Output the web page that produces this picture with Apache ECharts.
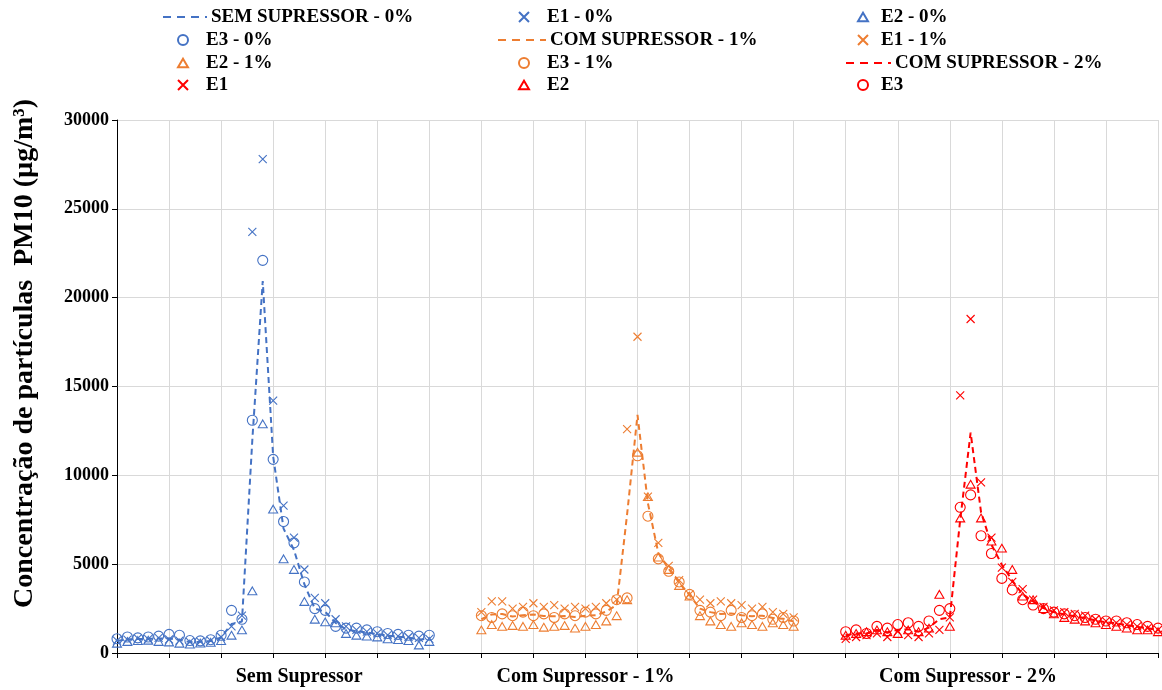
<!DOCTYPE html>
<html>
<head>
<meta charset="utf-8">
<script src="https://cdn.jsdelivr.net/npm/echarts@6/dist/echarts.min.js"></script>
<style>
  html, body { margin: 0; padding: 0; background: #ffffff; }
  #chart { width: 1162px; height: 690px; }
</style>
</head>
<body>
<div id="chart"></div>
<script>
// PM10 concentration sampled every 0.2 time units in three test runs
const timeStep = 0.2;
const groupStart = [0, 7, 14];
const groupLabels = ['Sem Supressor', 'Com Supressor - 1%', 'Com Supressor - 2%'];

// Run without suppressor (0%)
const mean0 = [680, 770, 790, 800, 820, 810, 750, 610, 630, 680, 870, 1630, 1770, 12000, 20930, 11070, 7000, 5800, 3870, 2500, 2320, 1700, 1330, 1230, 1150, 1070, 970, 920, 870, 750, 820];
const e1_0 = [700, 750, 820, 780, 850, 760, 700, 620, 640, 700, 900, 1500, 2100, 23700, 27800, 14200, 8300, 6500, 4700, 3100, 2800, 1900, 1500, 1300, 1200, 1100, 1000, 950, 900, 850, 800];
const e2_0 = [550, 650, 700, 720, 650, 620, 550, 500, 560, 600, 700, 1000, 1300, 3500, 12900, 8100, 5300, 4700, 2900, 1900, 1750, 1700, 1100, 1000, 950, 900, 800, 750, 700, 450, 650];
const e3_0 = [800, 900, 850, 900, 950, 1050, 1000, 700, 680, 750, 1000, 2400, 1900, 13100, 22100, 10900, 7400, 6200, 4000, 2500, 2400, 1500, 1400, 1400, 1300, 1200, 1100, 1050, 1000, 950, 1000];

// Run with suppressor at 1%
const mean1 = [1900, 2170, 2200, 2050, 2130, 2170, 2080, 2070, 2080, 2030, 2100, 2130, 2330, 2700, 7800, 13400, 8430, 5630, 4730, 3970, 3270, 2500, 2300, 2200, 2230, 2130, 2070, 2100, 1970, 1930, 1770];
const e1_1 = [2300, 2900, 2900, 2500, 2600, 2800, 2600, 2700, 2500, 2600, 2500, 2600, 2800, 3000, 12600, 17800, 8800, 6200, 4900, 4100, 3300, 3000, 2800, 2900, 2800, 2700, 2500, 2600, 2300, 2200, 2000];
const e2_1 = [1300, 1600, 1500, 1550, 1500, 1600, 1450, 1500, 1550, 1400, 1500, 1600, 1800, 2100, 3000, 11300, 8800, 5400, 4700, 3800, 3200, 2100, 1800, 1600, 1500, 1700, 1600, 1500, 1700, 1600, 1500];
const e3_1 = [2100, 2000, 2200, 2100, 2300, 2100, 2200, 2000, 2200, 2100, 2300, 2200, 2400, 3000, 3100, 11100, 7700, 5300, 4600, 4000, 3300, 2400, 2300, 2100, 2400, 2000, 2100, 2200, 1900, 2000, 1800];

// Run with suppressor at 2%
const mean2 = [1000, 1100, 1100, 1300, 1170, 1300, 1330, 1200, 1430, 1900, 2000, 7500, 12400, 7930, 6100, 4970, 4080, 3300, 2900, 2530, 2300, 2170, 2070, 1970, 1830, 1730, 1670, 1570, 1470, 1400, 1300];
const e1_2 = [800, 900, 1000, 1100, 900, 1200, 1000, 900, 1100, 1300, 2000, 14500, 18800, 9600, 6500, 4800, 4000, 3600, 3000, 2600, 2400, 2300, 2200, 2100, 1900, 1800, 1700, 1600, 1500, 1400, 1300];
const e2_2 = [1000, 1100, 1200, 1300, 1200, 1100, 1300, 1200, 1400, 3300, 1500, 7600, 9500, 7600, 6300, 5900, 4700, 3200, 3000, 2500, 2200, 2000, 1900, 1800, 1700, 1600, 1500, 1400, 1300, 1300, 1200];
const e3_2 = [1200, 1300, 1100, 1500, 1400, 1600, 1700, 1500, 1800, 2400, 2500, 8200, 8900, 6600, 5600, 4200, 3550, 3000, 2700, 2500, 2300, 2200, 2100, 2000, 1900, 1800, 1800, 1700, 1600, 1500, 1400];

const yTicks = [0, 5000, 10000, 15000, 20000, 25000, 30000];

const BLUE = '#4472C4', ORANGE = '#ED7D31', RED = '#FF0000';
const SERIF = '"Liberation Serif", "Times New Roman", serif';
const CROSS = 'path://M0,0L10,10M10,0L0,10';
const TRIANGLE = 'path://M5,0L10,8.66L0,8.66Z';

function pairs(start, values) {
  return values.map((v, i) => [Math.round((start + i * timeStep) * 100) / 100, v]);
}

function meanLine(name, start, values, color) {
  return {
    name, type: 'line', data: pairs(start, values),
    symbol: 'none', smooth: false,
    lineStyle: { color, width: 2, type: [6, 4] },
    itemStyle: { color },
    z: 2
  };
}

function markers(name, start, values, color, symbol, size) {
  return {
    name, type: 'scatter', data: pairs(start, values),
    symbol, symbolSize: size, symbolKeepAspect: true,
    itemStyle: { color: 'rgba(0,0,0,0)', borderColor: color, borderWidth: 1.1, opacity: 1 },
    z: 3
  };
}

const series = [
  meanLine('SEM SUPRESSOR - 0%', groupStart[0], mean0, BLUE),
  markers('E1 - 0%', groupStart[0], e1_0, BLUE, CROSS, 8),
  markers('E2 - 0%', groupStart[0], e2_0, BLUE, TRIANGLE, 9),
  markers('E3 - 0%', groupStart[0], e3_0, BLUE, 'circle', 10),
  meanLine('COM SUPRESSOR - 1%', groupStart[1], mean1, ORANGE),
  markers('E1 - 1%', groupStart[1], e1_1, ORANGE, CROSS, 8),
  markers('E2 - 1%', groupStart[1], e2_1, ORANGE, TRIANGLE, 9),
  markers('E3 - 1%', groupStart[1], e3_1, ORANGE, 'circle', 10),
  meanLine('COM SUPRESSOR - 2%', groupStart[2], mean2, RED),
  markers('E1', groupStart[2], e1_2, RED, CROSS, 8),
  markers('E2', groupStart[2], e2_2, RED, TRIANGLE, 9),
  markers('E3', groupStart[2], e3_2, RED, 'circle', 10)
];

// Legend: one small legend block per entry, laid out as a 3-column grid
const LEGEND_FONT = 19;
const rowY = [17, 40, 63, 85];
function markerEntry(name, row, cx, tx) {
  const w = 10;
  return {
    orient: 'horizontal', left: cx - w / 2, top: rowY[row] - 10, padding: 0,
    itemWidth: w, itemHeight: 10, selectedMode: false,
    textStyle: { fontFamily: SERIF, fontWeight: 'bold', fontSize: LEGEND_FONT, color: '#000',
                 lineHeight: 20, padding: [0, 0, 0, tx - (cx + w / 2 + 5)] },
    data: [name]
  };
}
function lineEntry(name, row, x0, x1, tx) {
  return {
    orient: 'horizontal', left: x0, top: rowY[row] - 10, padding: 0,
    itemWidth: x1 - x0, itemHeight: 10, selectedMode: false,
    textStyle: { fontFamily: SERIF, fontWeight: 'bold', fontSize: LEGEND_FONT, color: '#000',
                 lineHeight: 20, padding: [0, 0, 0, tx - (x1 + 5)] },
    data: [{
      name,
      itemStyle: { color: 'rgba(0,0,0,0)', borderColor: 'rgba(0,0,0,0)', borderWidth: 0 },
      lineStyle: { width: 2, type: [8, 6] }
    }]
  };
}

const chart = echarts.init(document.getElementById('chart'), null, { renderer: 'canvas' });
chart.setOption({
  animation: false,
  backgroundColor: '#ffffff',
  legend: [
    lineEntry('SEM SUPRESSOR - 0%', 0, 162, 206, 210),
    markerEntry('E1 - 0%', 0, 523, 546),
    markerEntry('E2 - 0%', 0, 862, 880),
    markerEntry('E3 - 0%', 1, 182, 205),
    lineEntry('COM SUPRESSOR - 1%', 1, 497, 545, 549),
    markerEntry('E1 - 1%', 1, 862, 880),
    markerEntry('E2 - 1%', 2, 182, 205),
    markerEntry('E3 - 1%', 2, 523, 546),
    lineEntry('COM SUPRESSOR - 2%', 2, 845, 890, 894),
    markerEntry('E1', 3, 182, 205),
    markerEntry('E2', 3, 523, 546),
    markerEntry('E3', 3, 862, 880)
  ],
  grid: { left: 117, right: 4, top: 120, bottom: 37, containLabel: false, outerBoundsMode: 'none' },
  xAxis: [
    {
      type: 'value', min: 0, max: 20, interval: 1,
      axisLine: { lineStyle: { color: '#000', width: 1 } },
      axisTick: { show: true, inside: false, length: 5, lineStyle: { color: '#000' } },
      axisLabel: { show: false },
      splitLine: { show: true, lineStyle: { color: '#d9d9d9', width: 1 } }
    },
    {
      type: 'value', min: 0, max: 20, position: 'bottom',
      axisLine: { show: false }, axisTick: { show: false }, splitLine: { show: false },
      axisLabel: {
        show: true, margin: 14,
        customValues: [3.5, 9, 16.35],
        formatter: (v) => {
          const idx = [3.5, 9, 16.35].findIndex(p => Math.abs(p - v) < 1e-6);
          return idx >= 0 ? groupLabels[idx] : '';
        },
        fontFamily: SERIF, fontWeight: 'bold', fontSize: 20, color: '#000'
      }
    }
  ],
  yAxis: {
    type: 'value', min: yTicks[0], max: yTicks[yTicks.length - 1], interval: 5000,
    name: 'Concentração de partículas  PM10 (µg/m³)',
    nameLocation: 'middle', nameGap: 78, nameRotate: 90,
    nameTextStyle: { fontFamily: SERIF, fontWeight: 'bold', fontSize: 28, color: '#000',
                     padding: [0, 0, 0, 66] },
    axisLine: { show: true, lineStyle: { color: '#000', width: 1 } },
    axisTick: { show: true, inside: false, length: 5, lineStyle: { color: '#000' } },
    axisLabel: { margin: 8, fontFamily: SERIF, fontWeight: 'bold', fontSize: 18, color: '#000',
                 formatter: (v) => String(v) },
    splitLine: { show: true, lineStyle: { color: '#d9d9d9', width: 1 } }
  },
  series
});
</script>
</body>
</html>
